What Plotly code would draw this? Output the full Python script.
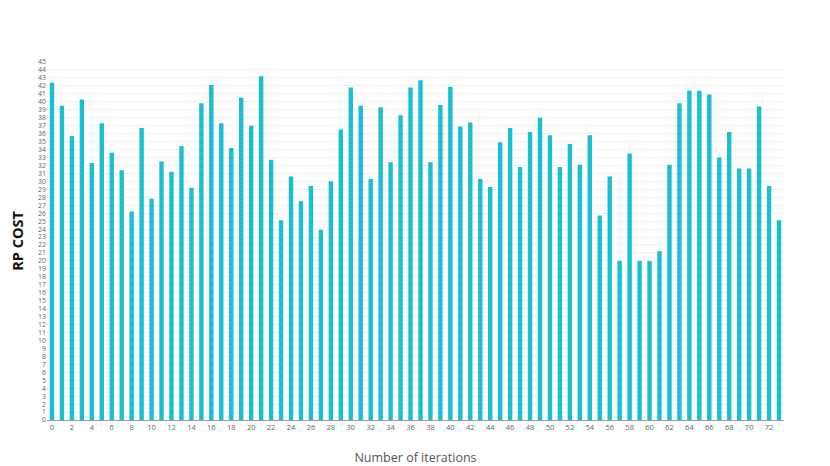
import plotly.graph_objects as go

# RP cost per iteration
iterations = list(range(74))
rp_cost = [
    42.4, 39.5, 35.7, 40.3, 32.3, 37.3, 33.6, 31.4, 26.2, 36.7,
    27.8, 32.5, 31.2, 34.4, 29.2, 39.8, 42.1, 37.3, 34.2, 40.5,
    37.0, 43.2, 32.7, 25.1, 30.6, 27.5, 29.4, 23.9, 30.0, 36.5,
    41.8, 39.5, 30.3, 39.3, 32.4, 38.3, 41.8, 42.7, 32.4, 39.6,
    41.9, 36.9, 37.4, 30.3, 29.3, 34.9, 36.7, 31.8, 36.2, 38.0,
    35.8, 31.8, 34.7, 32.1, 35.8, 25.7, 30.6, 20.0, 33.5, 20.0,
    20.0, 21.2, 32.1, 39.8, 41.4, 41.4, 40.9, 33.0, 36.2, 31.6,
    31.6, 39.4, 29.4, 25.1,
]
x_ticks = list(range(0, 74, 2))
y_ticks = list(range(0, 46))

BAR_COLOUR = "#17bfd0"

fig = go.Figure(
    go.Bar(
        x=iterations,
        y=rp_cost,
        marker_color=BAR_COLOUR,
        marker_line_width=0,
    )
)

# the page adds an 8px body margin, so the plot area is offset accordingly
fig.update_layout(
    width=830,
    height=466,
    margin=dict(l=39, r=54, t=54, b=54),
    plot_bgcolor="white",
    paper_bgcolor="white",
    font=dict(family="Open Sans", color="#555"),
    bargap=0.56,
    showlegend=False,
)

fig.update_xaxes(
    range=[-0.5, 73.5],
    automargin=False,
    tickmode="array",
    tickvals=x_ticks,
    tickfont=dict(size=7.5, color="#666"),
    showgrid=False,
    showline=True,
    linecolor="#999",
    linewidth=1,
    ticks="",
    title=dict(
        text="Number of iterations",
        font=dict(size=12.5, color="#555"),
        standoff=22,
    ),
)

fig.update_yaxes(
    range=[0, 45],
    automargin=False,
    tickmode="array",
    tickvals=y_ticks,
    tickfont=dict(size=7, color="#666"),
    showgrid=True,
    gridcolor="#efefef",
    gridwidth=1,
    zeroline=False,
    ticks="",
    title=dict(
        text="<b>RP COST</b>",
        font=dict(size=14.5, color="#111"),
        standoff=30,
    ),
)

fig.write_html("out.html")
